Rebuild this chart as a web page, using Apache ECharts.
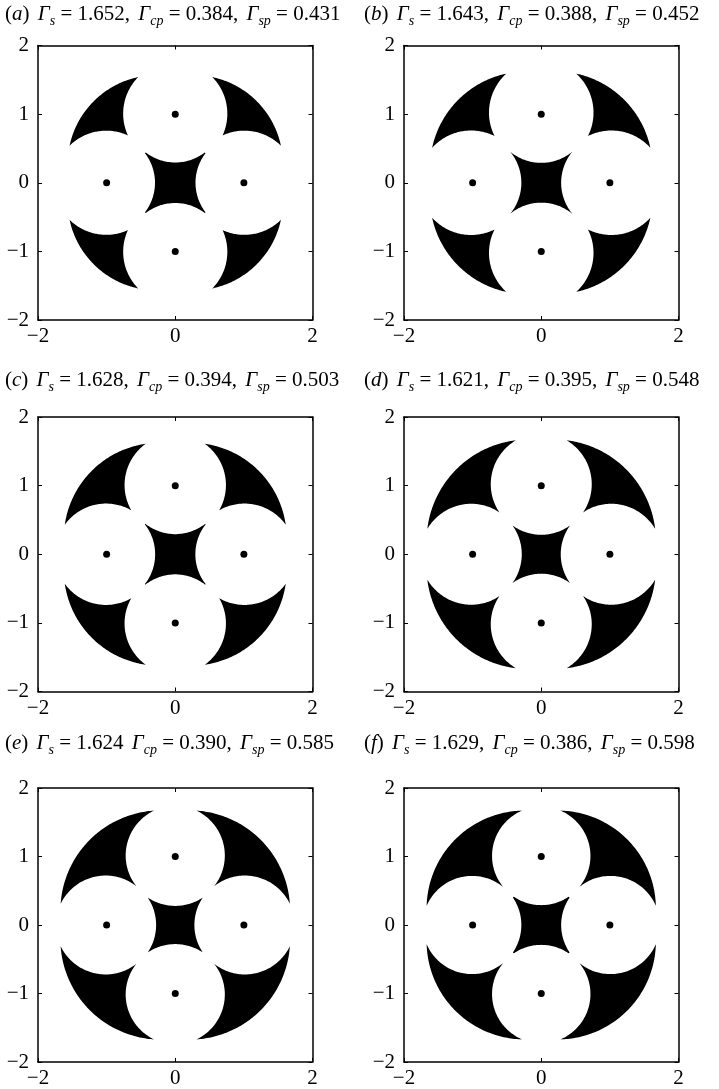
<!DOCTYPE html>
<html>
<head>
<meta charset="utf-8">
<script src="https://cdn.jsdelivr.net/npm/echarts@6/dist/echarts.min.js"></script>
<style>
  html, body { margin: 0; padding: 0; background: #fff; }
  #chart { width: 719px; height: 1089px; }
</style>
</head>
<body>
<div id="chart"></div>
<script>
const panelTags = ['a', 'b', 'c', 'd', 'e', 'f']
const gammaS = [1.652, 1.643, 1.628, 1.621, 1.624, 1.629]
const gammaCp = [0.384, 0.388, 0.394, 0.395, 0.390, 0.386]
const gammaSp = [0.431, 0.452, 0.503, 0.548, 0.585, 0.598]
const afterS = [',', ',', ',', ',', '', ',']

const xTicks = [-2, 0, 2]
const yTicks = [-2, -1, 0, 1, 2]

// point vortices
const vortexX = [1, 0, -1, 0]
const vortexY = [0, 1, 0, -1]

// shapes, top-left crescent (others follow by 90 deg turns)
const tipX = [-0.54, -0.51, -0.43, -0.37, -0.31, -0.28]
const tipY = [1.54, 1.59, 1.61, 1.66, 1.67, 1.67]
const cornerT = [0.69, 0.68, 0.64, 0.61, 0.565, 0.555]
const outerDiag = [1.68, 1.71, 1.72, 1.75, 1.76, 1.77]
// central star: half width on the axes and tip height
const starEdge = [0.295, 0.29, 0.293, 0.284, 0.279, 0.29]
const starTip = [0.43, 0.445, 0.435, 0.415, 0.395, 0.40]

const gridLeft = [38, 404]
const gridTop = [45.5, 417, 788]
const titleTop = [1, 367.5, 730.5]
const titleLeft = [5, 364]
const SIZE = 274.5

const FONT = '"Liberation Serif", "Times New Roman", serif'

const spiral = (pts, c, from, to) => {
  const a0 = Math.atan2(from[1] - c[1], from[0] - c[0])
  let a1 = Math.atan2(to[1] - c[1], to[0] - c[0])
  while (a1 < a0) a1 += Math.PI * 2
  const r0 = Math.hypot(from[0] - c[0], from[1] - c[1])
  const r1 = Math.hypot(to[0] - c[0], to[1] - c[1])
  const n = 60
  for (let i = 0; i <= n; i++) {
    const a = a0 + (a1 - a0) * i / n
    const r = r0 + (r1 - r0) * i / n
    pts.push([c[0] + r * Math.cos(a), c[1] + r * Math.sin(a)])
  }
}

const outerArc = (pts, from, dd, to) => {
  const u = [-Math.SQRT1_2, Math.SQRT1_2]
  const p = to[0] * u[0] + to[1] * u[1]
  const r2 = to[0] * to[0] + to[1] * to[1]
  const s = (dd * dd - r2) / (2 * (dd - p))
  const c = [s * u[0], s * u[1]]
  const a0 = Math.atan2(from[1] - c[1], from[0] - c[0])
  let a1 = Math.atan2(to[1] - c[1], to[0] - c[0])
  let d = a1 - a0
  while (d > Math.PI) d -= Math.PI * 2
  while (d < -Math.PI) d += Math.PI * 2
  const r = dd - s
  const n = 80
  for (let i = 1; i < n; i++) {
    const a = a0 + d * i / n
    pts.push([c[0] + r * Math.cos(a), c[1] + r * Math.sin(a)])
  }
}

const crescent = (p) => {
  const t = cornerT[p]
  const t1 = [tipX[p], tipY[p]]
  const t2 = [-tipY[p], -tipX[p]]
  const pts = []
  spiral(pts, [0, 1], t1, [-t, t])
  spiral(pts, [-1, 0], [-t, t], t2)
  outerArc(pts, t2, outerDiag[p], t1)
  return pts
}

const star = (p) => {
  const rs = 1 - starEdge[p]
  const al = Math.asin(starTip[p] / rs)
  const pts = []
  for (let k = 0; k < 4; k++) {
    const cx = vortexX[k], cy = vortexY[k]
    const mid = Math.PI + k * Math.PI / 2
    const n = 50
    for (let i = 0; i <= n; i++) {
      const a = mid + al - 2 * al * i / n
      pts.push([cx + rs * Math.cos(a), cy + rs * Math.sin(a)])
    }
  }
  return pts
}

const turn = (pt, k) => {
  let [x, y] = pt
  for (let i = 0; i < k; i++) [x, y] = [-y, x]
  return [x, y]
}

const minus = (v) => (v < 0 ? '\u2212' + (-v) : String(v))

const base = { fontFamily: FONT, fontSize: 21, fontWeight: 'normal', color: '#000', lineHeight: 26 }
const rich = {
  n: Object.assign({}, base),
  i: Object.assign({}, base, { fontStyle: 'italic' }),
  c: Object.assign({}, base, { padding: [0, 3, 0, 0] }),
  b: Object.assign({}, base, { fontSize: 14, fontStyle: 'italic', lineHeight: 14, padding: [14, 0, 0, 0] })
}

const part = (sub, val, sep) =>
  `{i|Γ}{b|${sub}}{n| = ${val.toFixed(3)}}` + (sep === undefined ? '' : `{c|${sep} }`)

const titleText = (p) =>
  `{n|(}{i|${panelTags[p]}}{c|) }` +
  part('s', gammaS[p], afterS[p]) +
  part('cp', gammaCp[p], ',') +
  part('sp', gammaSp[p])

const chart = echarts.init(document.getElementById('chart'))

const titles = []
const grids = []
const xAxes = []
const yAxes = []
const series = []

const lineStyle = { color: '#000', width: 1.5 }

for (let p = 0; p < 6; p++) {
  const col = p % 2
  const row = Math.floor(p / 2)
  titles.push({
    text: titleText(p),
    left: titleLeft[col],
    top: titleTop[row],
    padding: 0,
    textStyle: { fontWeight: 'normal', rich }
  })
  grids.push({ left: gridLeft[col], top: gridTop[row], width: SIZE, height: SIZE })
  const xBase = {
    gridIndex: p,
    type: 'value',
    min: xTicks[0],
    max: xTicks[xTicks.length - 1],
    interval: xTicks[1] - xTicks[0],
    axisLine: { onZero: false, lineStyle },
    axisTick: { inside: true, length: 4, lineStyle: { color: '#000', width: 1 } },
    splitLine: { show: false }
  }
  const yBase = {
    gridIndex: p,
    type: 'value',
    min: yTicks[0],
    max: yTicks[yTicks.length - 1],
    interval: yTicks[1] - yTicks[0],
    axisLine: { onZero: false, lineStyle },
    axisTick: { inside: true, length: 4, lineStyle: { color: '#000', width: 1 } },
    splitLine: { show: false }
  }
  const label = { color: '#000', fontFamily: FONT, fontSize: 21, formatter: minus }
  xAxes.push(Object.assign({}, xBase, { position: 'bottom', axisLabel: Object.assign({ margin: 6 }, label) }))
  xAxes.push(Object.assign({}, xBase, { position: 'top', axisLabel: { show: false } }))
  yAxes.push(Object.assign({}, yBase, { position: 'left', axisLabel: Object.assign({ margin: 9 }, label) }))
  yAxes.push(Object.assign({}, yBase, { position: 'right', axisLabel: { show: false } }))

  series.push({
    type: 'custom',
    xAxisIndex: 2 * p,
    yAxisIndex: 2 * p,
    silent: true,
    data: [[0, 0], [0, 1], [0, 2], [0, 3], [1, 0]],
    renderItem: (params, api) => {
      const kind = api.value(0)
      const k = api.value(1)
      const pts = kind === 0 ? crescent(p).map(q => turn(q, k)) : star(p)
      return {
        type: 'polygon',
        shape: { points: pts.map(q => api.coord(q)) },
        style: { fill: '#000', stroke: null }
      }
    }
  })
  series.push({
    type: 'scatter',
    xAxisIndex: 2 * p,
    yAxisIndex: 2 * p,
    silent: true,
    symbolSize: 7,
    itemStyle: { color: '#000', opacity: 1 },
    data: vortexX.map((x, j) => [x, vortexY[j]])
  })
}

chart.setOption({
  animation: false,
  backgroundColor: '#fff',
  title: titles,
  grid: grids,
  xAxis: xAxes,
  yAxis: yAxes,
  series
})
</script>
</body>
</html>
